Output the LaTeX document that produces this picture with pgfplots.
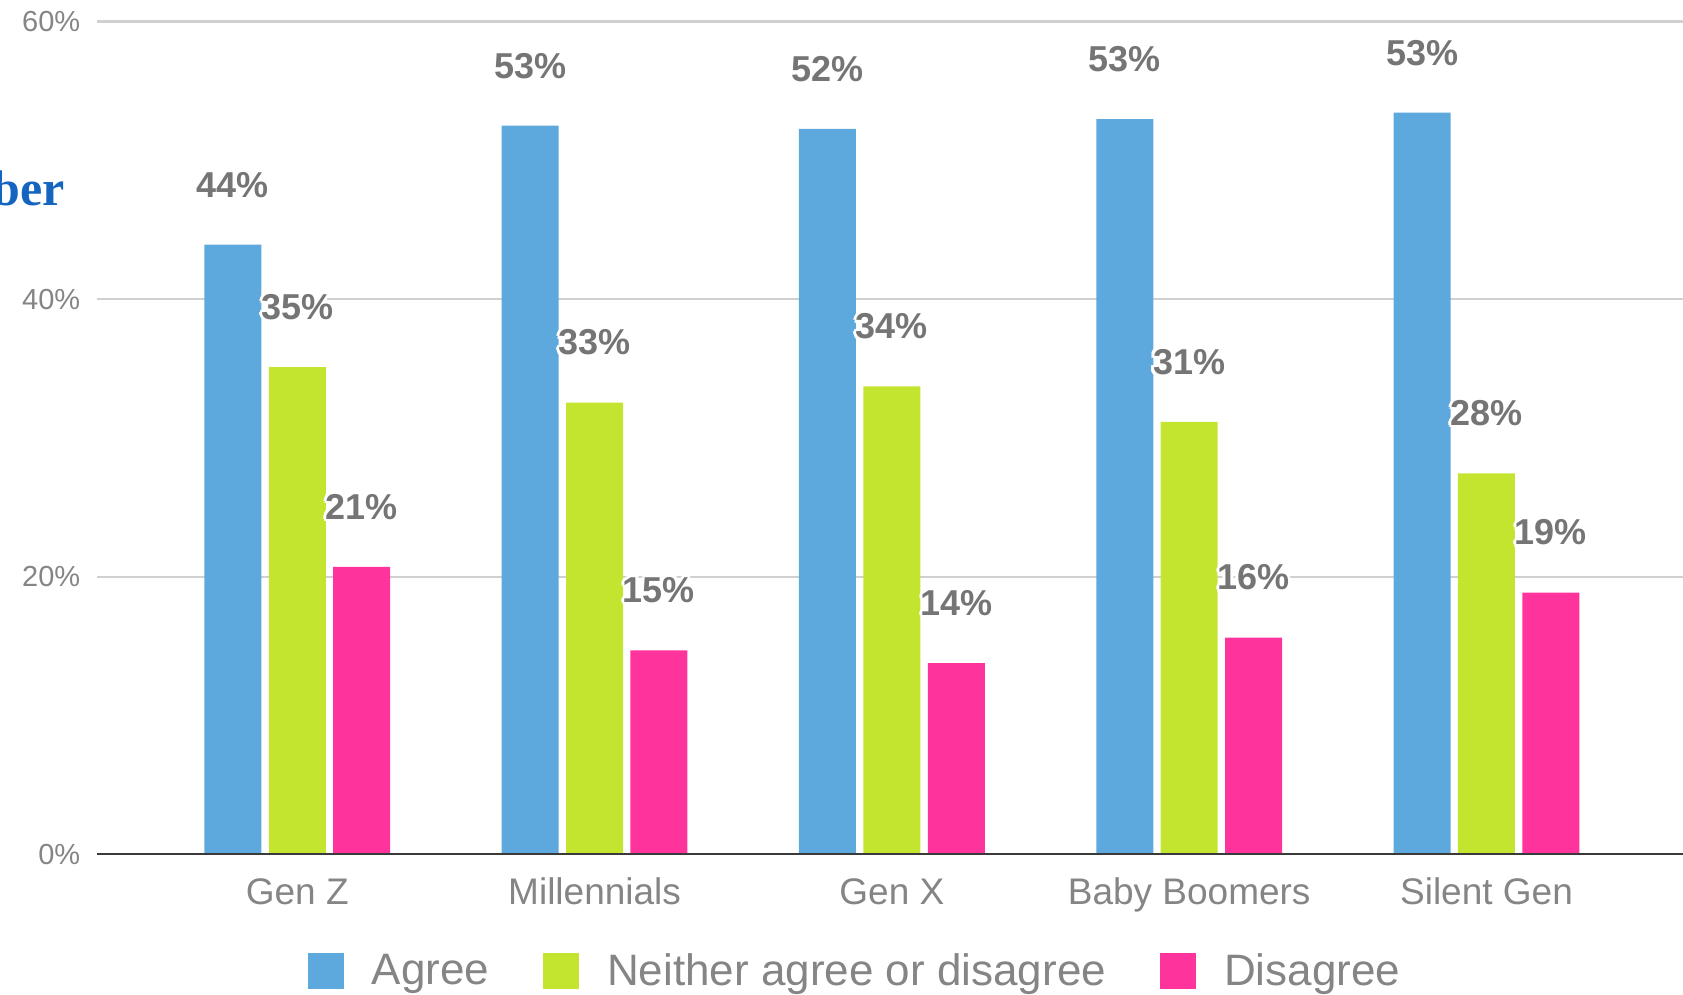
\documentclass[border=0pt]{standalone}
\usepackage{pgfplots}
\pgfplotsset{compat=1.18}
\usepackage{fontspec}
\setmainfont{Liberation Sans}
\newfontfamily\serifb{Liberation Serif}
\definecolor{cblue}{HTML}{5DA9DD}
\definecolor{cgreen}{HTML}{C3E52F}
\definecolor{cpink}{HTML}{FF339C}
\definecolor{lblgray}{HTML}{757575}
\definecolor{tickgray}{HTML}{858585}
\definecolor{gridgray}{HTML}{D0D0D0}
\definecolor{axisdark}{HTML}{3A3A3A}
\definecolor{titleblue}{HTML}{1565C0}
\newcommand\halo[1]{{%
\rlap{\textcolor{white}{\hspace*{1.5pt}#1}}%
\rlap{\textcolor{white}{\hspace*{-1.5pt}#1}}%
\rlap{\textcolor{white}{\raisebox{1.5pt}{#1}}}%
\rlap{\textcolor{white}{\raisebox{-1.5pt}{#1}}}%
\rlap{\textcolor{white}{\hspace*{1.1pt}\raisebox{1.1pt}{#1}}}%
\rlap{\textcolor{white}{\hspace*{-1.1pt}\raisebox{1.1pt}{#1}}}%
\rlap{\textcolor{white}{\hspace*{1.1pt}\raisebox{-1.1pt}{#1}}}%
\rlap{\textcolor{white}{\hspace*{-1.1pt}\raisebox{-1.1pt}{#1}}}%
#1}}
\begin{document}
\begin{tikzpicture}
\useasboundingbox (0,0) rectangle (841.5pt,497.5pt);
\clip (0,0) rectangle (841.5pt,497.5pt);
\node[anchor=base east, inner sep=0pt, text=titleblue, font=\serifb\bfseries\fontsize{25}{25}\selectfont] at (32.5pt,394.5pt) {ber};
\begin{axis}[
  at={(48.3pt,70.3pt)}, anchor=south west,
  scale only axis, width=793.2pt, height=416.45pt,
  xmin=-0.675, xmax=4.661, ymin=0, ymax=60,
  ybar=3.7pt, bar width=28.5pt,
  axis line style={draw=none},
  major tick length=0pt,
  ymajorgrids, grid style={gridgray, line width=1.1pt},
  ytick={0,20,40,60}, yticklabels={0\%,20\%,40\%,60\%},
  yticklabel style={font=\fontsize{14.5}{14.5}\selectfont, text=tickgray, anchor=east, inner sep=0pt, xshift=-8pt},
  xtick={0,1,2,3,4},
  xticklabels={Gen Z,Millennials,Gen X,Baby Boomers,Silent Gen},
  xticklabel style={font=\fontsize{18.5}{18.5}\selectfont, text=tickgray, anchor=base, inner sep=0pt, yshift=-25.2pt},
  point meta=explicit symbolic,
  nodes near coords={\halo{\pgfplotspointmeta\%}},
  every node near coord/.append style={font=\bfseries\fontsize{18}{18}\selectfont, text=lblgray, anchor=base, inner sep=0pt, yshift=23.8pt},
  legend image code/.code={\fill[#1] (0pt,-9pt) rectangle (18pt,9pt); \path (32pt,0pt);},
  legend columns=-1,
  legend style={draw=none, fill=none, at={(0.4774,-0.14)}, anchor=center,
    font=\fontsize{22}{22}\selectfont, text=tickgray,
    nodes={inner sep=0pt},
    /tikz/every even column/.append style={column sep=27pt}},
]
\addplot[fill=cblue, draw=none] coordinates {(0,43.92)[44] (1,52.50)[53] (2,52.27)[52] (3,52.97)[53] (4,53.43)[53]};
\addlegendentry{Agree}
\addplot[fill=cgreen, draw=none] coordinates {(0,35.10)[35] (1,32.55)[33] (2,33.71)[34] (3,31.16)[31] (4,27.45)[28]};
\addlegendentry{Neither agree or disagree}
\addplot[fill=cpink, draw=none] coordinates {(0,20.72)[21] (1,14.70)[15] (2,13.77)[14] (3,15.62)[16] (4,18.86)[19]};
\addlegendentry{Disagree}
\draw[axisdark, line width=1.4pt] (axis cs:-0.675,0) -- (axis cs:4.661,0);
\end{axis}
\end{tikzpicture}
\end{document}
